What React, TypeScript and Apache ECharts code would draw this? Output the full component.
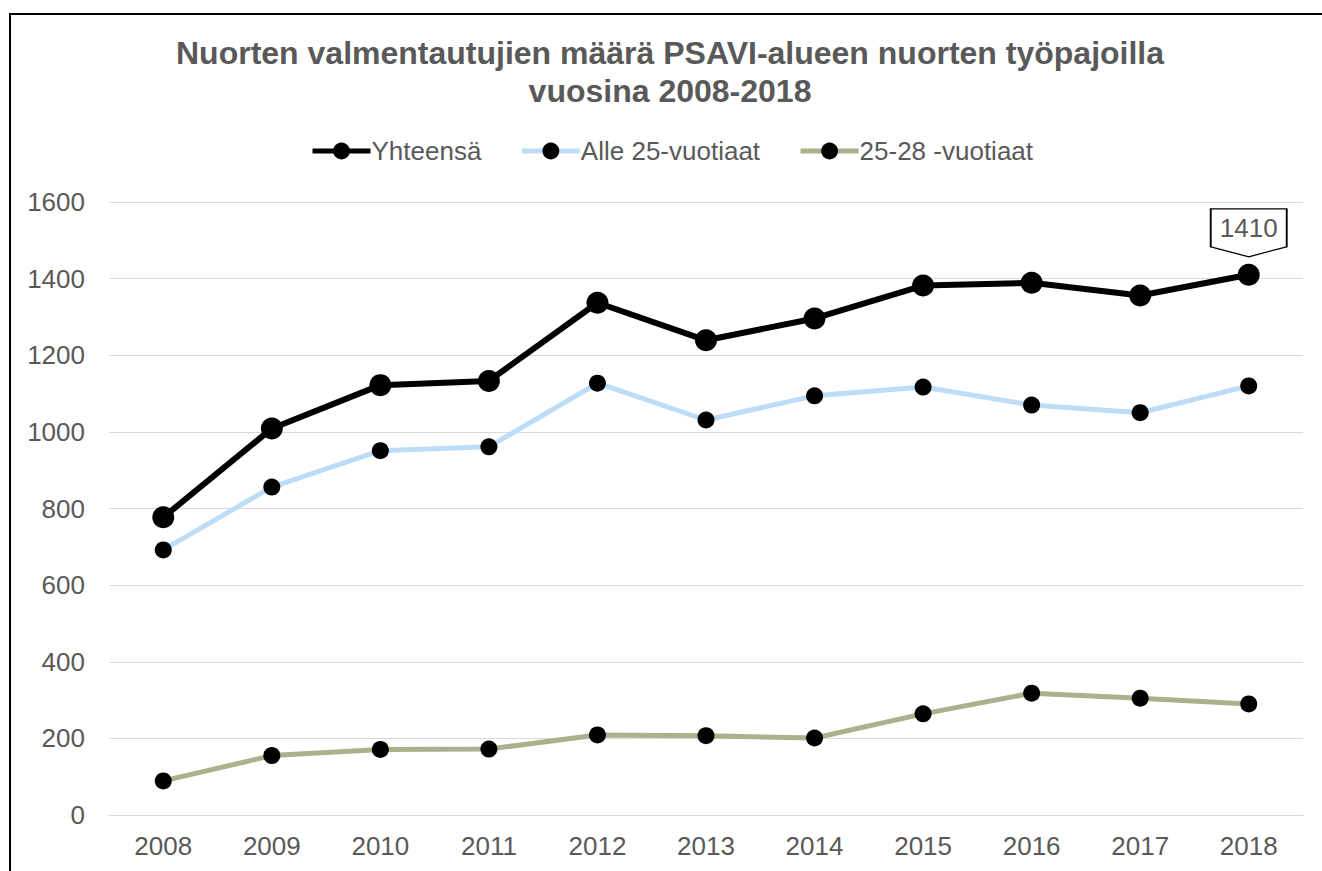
import React, { useEffect, useRef } from "react";
import * as echarts from "echarts";

const years = ["2008", "2009", "2010", "2011", "2012", "2013", "2014", "2015", "2016", "2017", "2018"];
const total = [777, 1009, 1122, 1133, 1337, 1239, 1296, 1382, 1389, 1356, 1410];
const under25 = [692, 856, 951, 961, 1127, 1031, 1094, 1117, 1070, 1050, 1120];
const age25to28 = [89, 155, 171, 172, 209, 207, 201, 264, 318, 305, 290];
const seriesNames = ["Yhteensä", "Alle 25-vuotiaat", "25-28 -vuotiaat"];
const titleText = "Nuorten valmentautujien määrä PSAVI-alueen nuorten työpajoilla\nvuosina 2008-2018";

const GRAY = "#595959";
const FONT = "'Liberation Sans', Arial, sans-serif";

export default function App() {
  const ref = useRef<HTMLDivElement>(null);
  useEffect(() => {
    if (!ref.current) return;
    const chart = echarts.init(ref.current, undefined, { renderer: "svg" });
    const last = years.length - 1;
    chart.setOption({
      animation: false,
      backgroundColor: "#ffffff",
      textStyle: { fontFamily: FONT },
      title: {
        text: titleText,
        left: 670,
        textAlign: "center",
        top: 34,
        padding: 0,
        textStyle: { fontSize: 32, fontWeight: "bold", color: GRAY, lineHeight: 38, fontFamily: FONT },
      },
      legend: {
        data: seriesNames,
        left: 310,
        top: 138,
        padding: 0,
        itemWidth: 58,
        itemHeight: 21,
        itemGap: 38,
        lineStyle: { width: 5 },
        textStyle: { fontSize: 26, color: GRAY, fontFamily: FONT, padding: [0, 0, 0, -4] },
      },
      grid: { left: 109, right: 19, top: 202, bottom: 56 },
      xAxis: {
        type: "category",
        data: years,
        boundaryGap: true,
        axisLine: { show: true, lineStyle: { color: "#D9D9D9", width: 1 } },
        axisTick: { show: false },
        axisLabel: { fontSize: 26, color: GRAY, margin: 18, fontFamily: FONT },
      },
      yAxis: {
        type: "value",
        min: 0,
        max: 1600,
        interval: 200,
        axisLine: { show: false },
        axisTick: { show: false },
        splitLine: { lineStyle: { color: "#D9D9D9", width: 1 } },
        axisLabel: {
          fontSize: 26,
          color: GRAY,
          margin: 24,
          fontFamily: FONT,
          formatter: (v: number) => String(v),
        },
      },
      series: [
        {
          name: seriesNames[1],
          type: "line",
          data: under25,
          symbol: "circle",
          symbolSize: 17,
          itemStyle: { color: "#000" },
          lineStyle: { color: "#BDDCF8", width: 5 },
          z: 2,
        },
        {
          name: seriesNames[2],
          type: "line",
          data: age25to28,
          symbol: "circle",
          symbolSize: 17,
          itemStyle: { color: "#000" },
          lineStyle: { color: "#ADB08D", width: 5 },
          z: 2,
        },
        {
          name: seriesNames[0],
          type: "line",
          data: total,
          symbol: "circle",
          symbolSize: 22,
          itemStyle: { color: "#000" },
          lineStyle: { color: "#000", width: 6 },
          z: 3,
          markPoint: {
            symbol: "path://M0,0 L76,0 L76,38 L38,48 L0,38 Z",
            symbolSize: [76, 48],
            symbolOffset: [0, -42],
            itemStyle: { color: "#fff", borderColor: "#000", borderWidth: 1.5 },
            label: {
              show: true,
              formatter: "{c}",
              color: GRAY,
              fontSize: 26,
              fontFamily: FONT,
              offset: [0, -5],
            },
            data: [{ coord: [years[last], total[last]], value: total[last] }],
          },
        },
      ],
    });
    return () => chart.dispose();
  }, []);
  return (
    <div style={{ position: "fixed", left: 0, top: 0, width: 1322, height: 871, overflow: "hidden", background: "#fff" }}>
      <div ref={ref} style={{ position: "absolute", left: 0, top: 0, width: 1322, height: 871 }} />
      <div
        style={{
          position: "absolute",
          left: 9,
          top: 13,
          width: 1400,
          height: 1000,
          borderTop: "2px solid #000",
          borderLeft: "2px solid #000",
          pointerEvents: "none",
        }}
      />
    </div>
  );
}
